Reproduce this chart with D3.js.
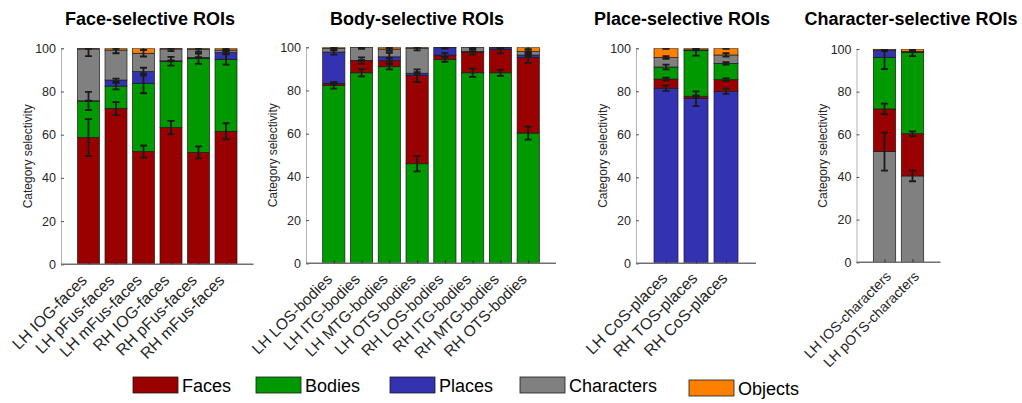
<!DOCTYPE html>
<html>
<head>
<meta charset="utf-8">
<script src="https://cdn.jsdelivr.net/npm/d3@7"></script>
<style>
  html, body { margin: 0; padding: 0; background: #fff; }
  svg { display: block; font-family: "Liberation Sans", Arial, Helvetica, sans-serif; }
</style>
</head>
<body>
<svg id="chart" width="1022" height="403"></svg>
<script>
// Category order used by every value row: Faces, Bodies, Places, Characters, Objects
const categories = ["Faces", "Bodies", "Places", "Characters", "Objects"];
const categoryColors = ["#990000", "#009900", "#3333b2", "#808080", "#ff8000"];
const yTicks = [0, 20, 40, 60, 80, 100];

// Face-selective ROIs
const faceROIs = ["LH IOG-faces", "LH pFus-faces", "LH mFus-faces", "RH IOG-faces", "RH pFus-faces", "RH mFus-faces"];
const faceMeans = [
  [58.7, 16.9, 0.1, 24.0, 0.3],
  [72.1, 10.4, 2.8, 13.9, 0.8],
  [52.2, 31.6, 5.4, 8.5, 2.3],
  [63.3, 30.7, 0.2, 5.5, 0.3],
  [51.8, 43.4, 0.5, 3.9, 0.4],
  [61.6, 33.3, 3.1, 1.2, 0.8]
];
const faceSEM = [
  [8.5, 4.2, 0.1, 3.3, 0.3],
  [3.0, 1.5, 0.7, 1.5, 0.3],
  [2.8, 4.6, 1.8, 1.5, 0.8],
  [3.1, 2.0, 0.2, 1.0, 0.3],
  [2.8, 2.4, 0.2, 1.2, 0.3],
  [3.7, 2.5, 0.8, 0.6, 0.6]
];

// Body-selective ROIs
const bodyROIs = ["LH LOS-bodies", "LH ITG-bodies", "LH MTG-bodies", "LH OTS-bodies", "RH LOS-bodies", "RH ITG-bodies", "RH MTG-bodies", "RH OTS-bodies"];
const bodyMeans = [
  [0.9, 82.4, 14.5, 1.6, 0.6],
  [5.6, 88.2, 0.1, 6.0, 0.1],
  [2.8, 91.0, 1.8, 3.6, 0.8],
  [40.8, 46.1, 1.1, 11.6, 0.4],
  [2.0, 94.4, 3.4, 0.1, 0.1],
  [9.6, 88.2, 0.2, 1.9, 0.1],
  [10.9, 88.2, 0.7, 0.1, 0.1],
  [35.0, 60.3, 1.1, 1.6, 2.0]
];
const bodySEM = [
  [0.3, 1.5, 1.2, 0.8, 0.3],
  [1.5, 1.7, 0.1, 0.6, 0.1],
  [1.2, 1.2, 1.8, 0.8, 0.4],
  [2.9, 3.5, 0.5, 1.0, 0.2],
  [1.0, 1.1, 0.4, 0.1, 0.1],
  [1.2, 1.9, 0.2, 0.5, 0.2],
  [1.9, 1.4, 0.5, 0.3, 0.1],
  [2.5, 3.0, 0.5, 0.8, 0.8]
];

// Place-selective ROIs
const placeROIs = ["LH CoS-places", "RH TOS-places", "RH CoS-places"];
const placeMeans = [
  [4.3, 5.6, 81.4, 4.4, 4.3],
  [1.1, 21.2, 76.6, 0.4, 0.7],
  [5.4, 7.6, 80.0, 3.9, 3.1]
];
const placeSEM = [
  [0.6, 1.1, 1.2, 0.6, 0.3],
  [0.4, 2.3, 3.4, 0.3, 0.3],
  [0.6, 0.6, 1.2, 0.8, 0.3]
];

// Character-selective ROIs
const charROIs = ["LH IOS-characters", "LH pOTS-characters"];
const charMeans = [
  [20.0, 24.2, 3.4, 51.9, 0.5],
  [19.8, 38.0, 0.6, 40.5, 1.1]
];
const charSEM = [
  [2.5, 5.5, 0.5, 8.9, 0.3],
  [1.1, 1.6, 0.3, 2.5, 0.4]
];

// Panel layout: the preferred category is stacked first, the rest follow in category order
const panels = [
  { title: "Face-selective ROIs", rois: faceROIs, means: faceMeans, sem: faceSEM, lead: 0,
    x0: 61, x1: 253.5, yTop: 48.3, yBot: 264.3, titleX: 150, labelX: 28,
    labelSize: 16, labelShift: [-1, 17] },
  { title: "Body-selective ROIs", rois: bodyROIs, means: bodyMeans, sem: bodySEM, lead: 1,
    x0: 306, x1: 556, yTop: 47.3, yBot: 263.3, titleX: 417, labelX: 273,
    labelSize: 15.5, labelShift: [-1, 17] },
  { title: "Place-selective ROIs", rois: placeROIs, means: placeMeans, sem: placeSEM, lead: 2,
    x0: 636, x1: 756, yTop: 48.3, yBot: 263.3, titleX: 682, labelX: 603,
    labelSize: 16, labelShift: [2, 16] },
  { title: "Character-selective ROIs", rois: charROIs, means: charMeans, sem: charSEM, lead: 3,
    x0: 856.5, x1: 940.5, yTop: 49, yBot: 262.3, titleX: 911, labelX: 822.7,
    labelSize: 14, labelShift: [7, 15] }
];

const svg = d3.select("#chart");
const textColor = "#262626";
const axisColor = "#707070";

panels.forEach((p, pi) => {
  const n = p.rois.length;
  const x = d3.scaleLinear().domain([0, n + 1]).range([p.x0, p.x1]);
  const y = d3.scaleLinear().domain([0, 100]).range([p.yBot, p.yTop]);
  const barW = x(0.8) - x(0);

  const order = [p.lead].concat(d3.range(categories.length).filter(c => c !== p.lead));

  const g = svg.append("g");

  const clipId = "clip" + pi;
  svg.append("clipPath").attr("id", clipId)
    .append("rect")
    .attr("x", p.x0).attr("y", p.yTop)
    .attr("width", p.x1 - p.x0).attr("height", p.yBot - p.yTop);

  // stacked segments
  const segs = [];
  p.rois.forEach((roi, i) => {
    let acc = 0;
    order.forEach(c => {
      const v = p.means[i][c];
      segs.push({ i, c, lo: acc, hi: acc + v, err: p.sem[i][c] });
      acc += v;
    });
  });

  const plot = g.append("g").attr("clip-path", `url(#${clipId})`);

  plot.selectAll("rect.seg").data(segs).join("rect")
    .attr("class", "seg")
    .attr("x", d => x(d.i + 1) - barW / 2)
    .attr("width", barW)
    .attr("y", d => y(d.hi))
    .attr("height", d => Math.max(0, y(d.lo) - y(d.hi)))
    .attr("fill", d => categoryColors[d.c])
    .attr("stroke", "#1a1a1a")
    .attr("stroke-width", 0.7);

  // error bars at the top of each segment
  const capW = 3.5;
  const eb = plot.selectAll("g.eb").data(segs).join("g").attr("class", "eb")
    .attr("stroke", "#1a1a1a").attr("stroke-width", 1.8);
  eb.append("line")
    .attr("x1", d => x(d.i + 1)).attr("x2", d => x(d.i + 1))
    .attr("y1", d => y(d.hi - d.err)).attr("y2", d => y(d.hi + d.err));
  eb.append("line")
    .attr("x1", d => x(d.i + 1) - capW).attr("x2", d => x(d.i + 1) + capW)
    .attr("y1", d => y(d.hi - d.err)).attr("y2", d => y(d.hi - d.err));
  eb.append("line")
    .attr("x1", d => x(d.i + 1) - capW).attr("x2", d => x(d.i + 1) + capW)
    .attr("y1", d => y(d.hi + d.err)).attr("y2", d => y(d.hi + d.err));

  // y axis
  const yAxis = d3.axisLeft(y).tickValues(yTicks).tickSize(-3).tickPadding(5);
  const ya = g.append("g").attr("transform", `translate(${p.x0},0)`).call(yAxis);
  ya.select(".domain").attr("stroke", "#a0a0a0").attr("stroke-width", 0.8);
  ya.selectAll(".tick line").attr("stroke", "#555");
  ya.selectAll(".tick text").attr("fill", textColor).attr("font-size", 12.5)
    .attr("font-family", "Liberation Sans, Arial, sans-serif");

  // x axis with rotated ROI labels
  const xAxis = d3.axisBottom(x).tickValues(d3.range(1, n + 1)).tickSize(-3)
    .tickFormat(d => p.rois[d - 1]);
  const xa = g.append("g").attr("transform", `translate(0,${p.yBot})`).call(xAxis);
  xa.select(".domain").attr("stroke", axisColor).attr("stroke-width", 1.5)
    .attr("d", `M${p.x0},0H${p.x1}`);
  xa.selectAll(".tick line").attr("stroke", "#333");
  xa.selectAll(".tick text")
    .attr("fill", textColor).attr("font-size", p.labelSize)
    .attr("font-family", "Liberation Sans, Arial, sans-serif")
    .attr("text-anchor", "end")
    .attr("y", 0).attr("dy", 0)
    .attr("transform", `translate(${p.labelShift[0]},${p.labelShift[1]}) rotate(-45)`);

  // y axis label
  g.append("text")
    .attr("transform", `translate(${p.labelX},${(p.yTop + p.yBot) / 2}) rotate(-90)`)
    .attr("text-anchor", "middle").attr("dy", "0.35em")
    .attr("font-size", 12).attr("fill", textColor)
    .text("Category selectivity");

  // title
  g.append("text")
    .attr("x", p.titleX).attr("y", 25)
    .attr("text-anchor", "middle")
    .attr("font-size", 18).attr("font-weight", "bold").attr("fill", "#000")
    .text(p.title);
});

// legend
const legendX = [133, 256, 390, 520, 689];
const legendY = [377, 377, 377, 377, 380];
const legend = svg.append("g");
categories.forEach((c, i) => {
  legend.append("rect")
    .attr("x", legendX[i]).attr("y", legendY[i])
    .attr("width", 45).attr("height", 16)
    .attr("fill", categoryColors[i])
    .attr("stroke", "#1a1a1a").attr("stroke-width", 0.8);
  legend.append("text")
    .attr("x", legendX[i] + 49).attr("y", legendY[i] + 15)
    .attr("font-size", 18).attr("fill", "#000")
    .text(c);
});
</script>
</body>
</html>
